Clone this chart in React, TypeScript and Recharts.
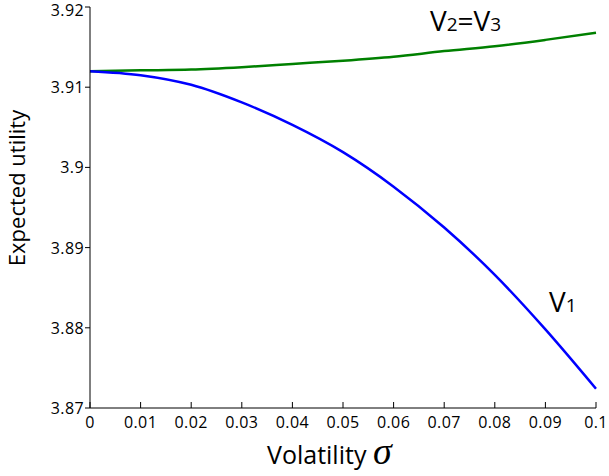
import React from 'react';
import { LineChart, Line, XAxis, YAxis, ReferenceDot, Label } from 'recharts';

const sigma = [0, 0.01, 0.02, 0.03, 0.04, 0.05, 0.06, 0.07, 0.08, 0.09, 0.1];
const v1Values = [3.912, 3.9115, 3.9103, 3.9081, 3.9053, 3.9019, 3.8976, 3.8925, 3.8866, 3.8798, 3.8724];
const v23Values = [3.912, 3.9121, 3.9122, 3.9125, 3.9129, 3.9133, 3.9138, 3.9145, 3.9151, 3.9159, 3.9168];
const xTicks = [0, 0.01, 0.02, 0.03, 0.04, 0.05, 0.06, 0.07, 0.08, 0.09, 0.1];
const yTicks = [3.87, 3.88, 3.89, 3.9, 3.91, 3.92];

const data = sigma.map((s, i) => ({ s, v1: v1Values[i], v23: v23Values[i] }));

const FONT = '"Open Sans", "Noto Sans", sans-serif';

const annoV23 = { x: 0.0672, y: 3.917 };
const annoV1 = { x: 0.0907, y: 3.882 };

const V23Shape = (p: any) => (
  <text x={p.cx} y={p.cy} fontFamily={FONT} fontSize={28} fill="#000">
    <tspan>V</tspan>
    <tspan fontSize={19}>2</tspan>
    <tspan>=V</tspan>
    <tspan fontSize={19}>3</tspan>
  </text>
);

const V1Shape = (p: any) => (
  <text x={p.cx} y={p.cy} fontFamily={FONT} fontSize={28} fill="#000">
    <tspan>V</tspan>
    <tspan fontSize={19}>1</tspan>
  </text>
);

const YTick = (p: any) => (
  <text
    x={p.x}
    y={p.y}
    dy={p.index === yTicks.length - 1 ? 9 : 6}
    textAnchor="end"
    fontFamily={FONT}
    fontSize={16}
    letterSpacing={0.4}
    fill="#000"
  >
    {p.payload.value}
  </text>
);

const XTick = (p: any) => (
  <text
    x={p.x}
    y={p.y}
    dy={12}
    textAnchor="middle"
    fontFamily={FONT}
    fontSize={16}
    letterSpacing={0.4}
    fill="#000"
  >
    {p.payload.value}
  </text>
);

export default function App() {
  return (
    <div style={{ position: 'absolute', left: 0, top: 0, background: '#fff' }}>
      <LineChart
        width={609}
        height={476}
        data={data}
        margin={{ top: 7, right: 13, bottom: 0, left: 0 }}
      >
        <XAxis
          dataKey="s"
          type="number"
          domain={[0, 0.1]}
          ticks={xTicks}
          height={68}
          tickSize={-6}
          tickMargin={14}
          axisLine={{ stroke: '#000', strokeWidth: 1 }}
          tickLine={{ stroke: '#000', strokeWidth: 1 }}
          tick={<XTick />}
          interval={0}
        >
          <Label
            content={() => (
              <text x={267} y={464} fontFamily={FONT} fontSize={25} fill="#000">
                <tspan>Volatility </tspan>
                <tspan fontFamily='"Liberation Serif", "DejaVu Serif", serif' fontStyle="italic" fontSize={38}>σ</tspan>
              </text>
            )}
          />
        </XAxis>
        <YAxis
          type="number"
          domain={[3.87, 3.92]}
          ticks={yTicks}
          width={90}
          tickSize={5}
          tickMargin={1}
          axisLine={{ stroke: '#000', strokeWidth: 1 }}
          tickLine={{ stroke: '#000', strokeWidth: 1 }}
          tick={<YTick />}
          interval={0}
        >
          <Label
            content={() => (
              <text
                x={25}
                y={188}
                transform="rotate(-90, 25, 188)"
                textAnchor="middle"
                fontFamily={FONT}
                fontSize={22}
                fill="#000"
              >
                Expected utility
              </text>
            )}
          />
        </YAxis>
        <Line
          type="monotone"
          dataKey="v23"
          stroke="#008000"
          strokeWidth={2.5}
          dot={false}
          isAnimationActive={false}
        />
        <Line
          type="monotone"
          dataKey="v1"
          stroke="#0000ff"
          strokeWidth={2.5}
          dot={false}
          isAnimationActive={false}
        />
        <ReferenceDot x={annoV23.x} y={annoV23.y} r={0} shape={V23Shape} />
        <ReferenceDot x={annoV1.x} y={annoV1.y} r={0} shape={V1Shape} />
      </LineChart>
    </div>
  );
}
